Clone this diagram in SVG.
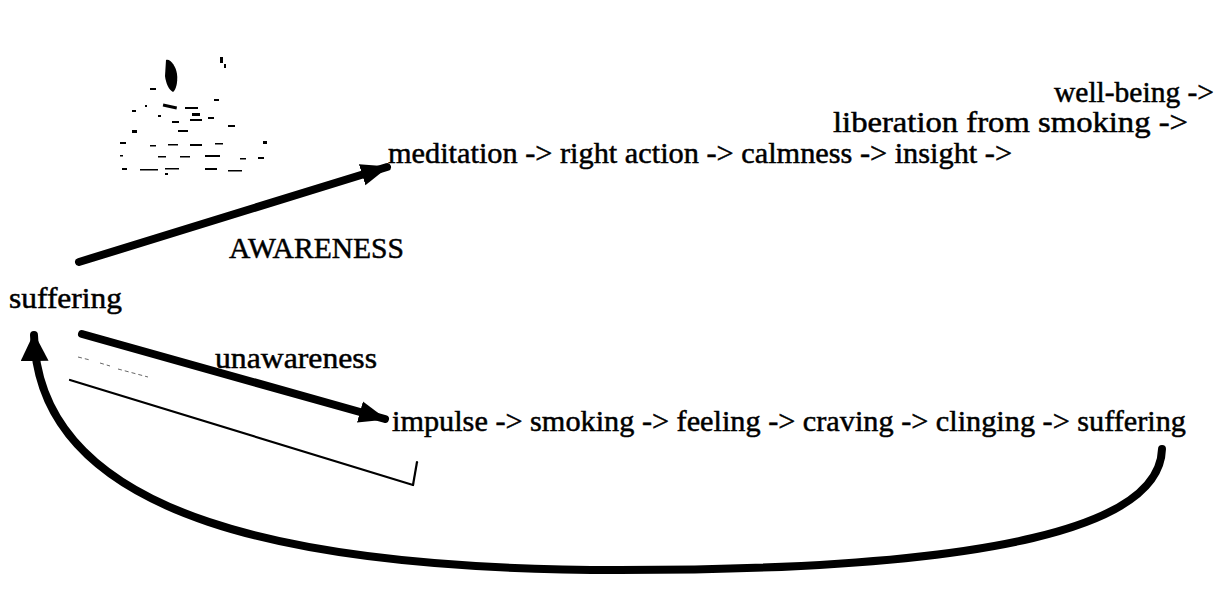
<svg xmlns="http://www.w3.org/2000/svg" width="1226" height="600" viewBox="0 0 1226 600">
  <style>
    .t { font-family: "Liberation Serif", "Times New Roman", serif; font-size: 30px; fill: #000; stroke: #000; stroke-width: 0.5; }
    .thick { fill: none; stroke: #000; stroke-width: 8; stroke-linecap: round; }
    .thin { fill: none; stroke: #000; stroke-width: 2.2; stroke-linecap: round; }
    .speck { fill: #000; }
  </style>
  <defs>
    <marker id="head" markerUnits="userSpaceOnUse" markerWidth="30" markerHeight="24" refX="26" refY="12" orient="auto">
      <path d="M0,1 L28,12 L0,23 Z" fill="#000"/>
    </marker>
    <marker id="headBig" markerUnits="userSpaceOnUse" markerWidth="30" markerHeight="28" refX="26" refY="14" orient="auto">
      <path d="M0,0 L28,14 L0,28 Z" fill="#000"/>
    </marker>
  </defs>

  <!-- scanned seated-figure illustration, rendered as specks -->
  <g id="figure">
    <path class="speck" d="M166,60 C170,58 176,66 177,74 C178,82 176,90 173,92 C169,90 166,84 165,76 Z"/>
    <rect class="speck" x="220" y="57" width="3" height="6"/>
    <rect class="speck" x="224" y="64" width="2" height="4"/>
    <rect class="speck" x="150" y="88" width="6" height="2"/>
    <rect class="speck" x="214" y="99" width="5" height="2"/>
    <rect class="speck" x="163" y="105" width="14" height="3" transform="rotate(12 170 106)"/>
    <rect class="speck" x="185" y="107" width="13" height="2"/>
    <rect class="speck" x="192" y="113" width="8" height="3"/>
    <rect class="speck" x="190" y="119" width="12" height="2"/>
    <rect class="speck" x="172" y="121" width="7" height="2"/>
    <rect class="speck" x="208" y="117" width="6" height="2"/>
    <rect class="speck" x="178" y="130" width="10" height="2"/>
    <rect class="speck" x="228" y="125" width="7" height="2"/>
    <rect class="speck" x="132" y="130" width="5" height="3"/>
    <rect class="speck" x="132" y="110" width="4" height="2"/>
    <rect class="speck" x="120" y="142" width="6" height="2"/>
    <rect class="speck" x="150" y="145" width="6" height="1.5"/>
    <rect class="speck" x="168" y="144" width="10" height="1.5"/>
    <rect class="speck" x="190" y="144" width="12" height="2"/>
    <rect class="speck" x="215" y="143" width="8" height="1.5"/>
    <rect class="speck" x="263" y="141" width="4" height="3"/>
    <rect class="speck" x="158" y="156" width="8" height="1.5"/>
    <rect class="speck" x="180" y="156" width="10" height="1.5"/>
    <rect class="speck" x="205" y="155" width="15" height="2"/>
    <rect class="speck" x="240" y="158" width="6" height="1.5"/>
    <rect class="speck" x="258" y="157" width="6" height="2"/>
    <rect class="speck" x="122" y="168" width="5" height="2"/>
    <rect class="speck" x="140" y="169" width="18" height="1.5"/>
    <rect class="speck" x="165" y="168" width="14" height="1.5"/>
    <rect class="speck" x="205" y="168" width="12" height="2"/>
    <rect class="speck" x="228" y="170" width="14" height="1.5"/>
    <rect class="speck" x="165" y="173" width="3" height="2"/>
    <rect class="speck" x="145" y="105" width="2" height="2"/>
    <rect class="speck" x="158" y="115" width="3" height="2"/>
    <rect class="speck" x="120" y="155" width="3" height="1.5"/>
  </g>

  <!-- flow arrows -->
  <g id="connectors">
    <line class="thick" x1="79" y1="262" x2="387" y2="167" marker-end="url(#head)"/>
    <line class="thick" x1="82" y1="334" x2="385" y2="419" marker-end="url(#head)"/>
    <line class="thin" x1="70" y1="380" x2="413" y2="485"/>
    <path class="thin" d="M413,485 L417,462"/>
    <path d="M78,357 L90,360 M100,363 L110,366 M118,369 L148,377" fill="none" stroke="#000" stroke-width="1" stroke-dasharray="4 3" opacity="0.6"/>
    <path class="thick" d="M1162,449 C1160,525 1000,570 620,570 C300,570 38,520 34,335" marker-end="url(#headBig)"/>
  </g>

  <g id="label-awareness"><text class="t" x="229" y="258" textLength="175" lengthAdjust="spacingAndGlyphs">AWARENESS</text></g>
  <g id="label-unawareness"><text class="t" x="215" y="368" textLength="162" lengthAdjust="spacingAndGlyphs">unawareness</text></g>

  <g id="node-suffering"><text class="t" x="9" y="308" textLength="113" lengthAdjust="spacingAndGlyphs">suffering</text></g>
  <g id="node-path"><text class="t" x="388" y="163" textLength="624" lengthAdjust="spacingAndGlyphs">meditation -&gt; right action -&gt; calmness -&gt; insight -&gt;</text></g>
  <g id="node-liberation"><text class="t" x="833" y="132" textLength="355" lengthAdjust="spacingAndGlyphs">liberation from smoking -&gt;</text></g>
  <g id="node-wellbeing"><text class="t" x="1054" y="102" textLength="160" lengthAdjust="spacingAndGlyphs">well-being -&gt;</text></g>
  <g id="node-cycle"><text class="t" x="392" y="431" textLength="794" lengthAdjust="spacingAndGlyphs">impulse -&gt; smoking -&gt; feeling -&gt; craving -&gt; clinging -&gt; suffering</text></g>
</svg>
